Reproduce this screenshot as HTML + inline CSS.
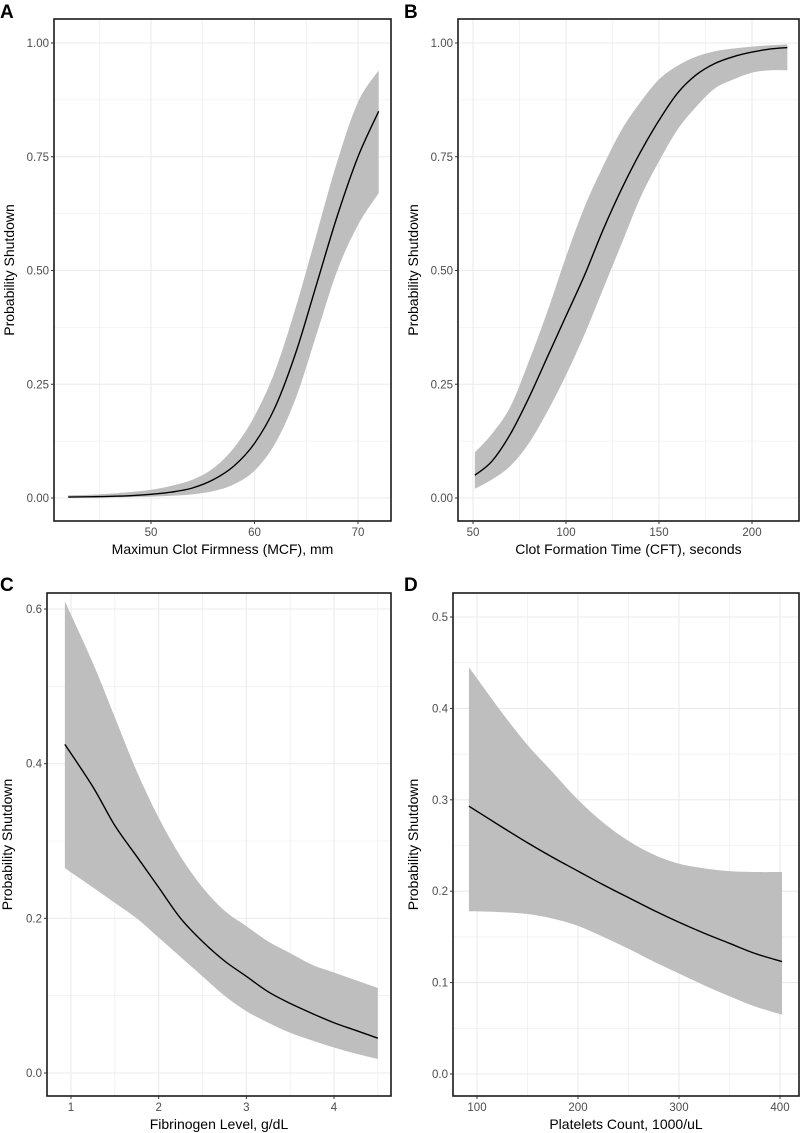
<!DOCTYPE html>
<html><head><meta charset="utf-8"><style>
html,body{margin:0;padding:0;background:#fff;}
svg{display:block;font-family:"Liberation Sans",sans-serif;}
</style></head><body>
<svg id="chart" width="800" height="1133" viewBox="0 0 800 1133" xmlns="http://www.w3.org/2000/svg"></svg>
<script>
// Panel A data
const aX=[42,45,48,50,52,54,56,58,60,62,64,66,68,70,72];
const aFit=[0.002,0.003,0.005,0.008,0.013,0.022,0.04,0.07,0.12,0.2,0.32,0.47,0.62,0.75,0.85];
const aLow=[0.001,0.001,0.002,0.003,0.005,0.008,0.015,0.03,0.06,0.12,0.22,0.36,0.5,0.6,0.67];
const aHigh=[0.006,0.008,0.013,0.018,0.027,0.04,0.065,0.11,0.18,0.28,0.42,0.58,0.74,0.87,0.94];
const aXTicks=[50,60,70];
const aYTicks=[0,0.25,0.5,0.75,1];
const aYLabels=["0.00","0.25","0.50","0.75","1.00"];
// Panel B data
const bX=[51,60,70,80,90,100,110,120,130,140,150,160,170,180,190,200,210,219];
const bFit=[0.05,0.08,0.14,0.22,0.31,0.40,0.49,0.59,0.68,0.76,0.83,0.89,0.93,0.955,0.97,0.98,0.987,0.99];
const bLow=[0.02,0.04,0.07,0.12,0.19,0.27,0.36,0.46,0.56,0.66,0.74,0.81,0.86,0.9,0.92,0.935,0.94,0.94];
const bHigh=[0.1,0.14,0.2,0.3,0.41,0.53,0.64,0.73,0.81,0.87,0.92,0.95,0.97,0.982,0.988,0.992,0.995,0.997];
const bXTicks=[50,100,150,200];
const bYTicks=[0,0.25,0.5,0.75,1];
const bYLabels=["0.00","0.25","0.50","0.75","1.00"];
// Panel C data
const cX=[0.93,1.25,1.5,1.75,2,2.25,2.5,2.75,3,3.25,3.5,3.75,4,4.25,4.5];
const cFit=[0.425,0.37,0.32,0.28,0.24,0.2,0.17,0.145,0.125,0.105,0.09,0.077,0.065,0.055,0.045];
const cLow=[0.265,0.24,0.22,0.2,0.175,0.15,0.125,0.1,0.08,0.065,0.052,0.042,0.033,0.025,0.018];
const cHigh=[0.61,0.53,0.46,0.39,0.33,0.28,0.24,0.21,0.19,0.17,0.155,0.14,0.13,0.12,0.11];
const cXTicks=[1,2,3,4];
const cYTicks=[0,0.2,0.4,0.6];
const cYLabels=["0.0","0.2","0.4","0.6"];
// Panel D data
const dX=[92,125,150,175,200,225,250,275,300,325,350,375,402];
const dFit=[0.293,0.27,0.253,0.237,0.222,0.207,0.193,0.179,0.166,0.154,0.143,0.132,0.123];
const dLow=[0.178,0.177,0.175,0.17,0.162,0.15,0.137,0.123,0.11,0.097,0.085,0.074,0.065];
const dHigh=[0.445,0.395,0.36,0.33,0.3,0.275,0.255,0.24,0.23,0.225,0.222,0.221,0.221];
const dXTicks=[100,200,300,400];
const dYTicks=[0,0.1,0.2,0.3,0.4,0.5];
const dYLabels=["0.0","0.1","0.2","0.3","0.4","0.5"];

const NS="http://www.w3.org/2000/svg";
const svg=document.getElementById('chart');
function mk(tag,attrs,parent){const e=document.createElementNS(NS,tag);for(const k in attrs)e.setAttribute(k,attrs[k]);(parent||svg).appendChild(e);return e;}
function smooth(pts){let d="M"+pts[0][0]+","+pts[0][1];for(let i=0;i<pts.length-1;i++){const p0=pts[Math.max(0,i-1)],p1=pts[i],p2=pts[i+1],p3=pts[Math.min(pts.length-1,i+2)];
const c1=[p1[0]+(p2[0]-p0[0])/6,p1[1]+(p2[1]-p0[1])/6],c2=[p2[0]-(p3[0]-p1[0])/6,p2[1]-(p3[1]-p1[1])/6];
d+=" C"+c1[0]+","+c1[1]+" "+c2[0]+","+c2[1]+" "+p2[0]+","+p2[1];}return d;}
function smoothCont(pts){return smooth(pts).replace(/^M/,"L");}

function panel(cfg){
 const g=mk('g',{});
 
 
 const {L,T,R,B}=cfg.box;
 const xs=v=>cfg.xp0+(v-cfg.xv0)*(cfg.xp1-cfg.xp0)/(cfg.xv1-cfg.xv0);
 const ys=v=>cfg.yp0+(v-cfg.yv0)*(cfg.yp1-cfg.yp0)/(cfg.yv1-cfg.yv0);
 const xt=cfg.xTicks, yt=cfg.yTicks;
 const xstep=xt[1]-xt[0], ystep=yt[1]-yt[0];
 const grid=mk('g',{},g);
 
 
 for(let v=xt[0]-2*xstep;v<=xt[xt.length-1]+2*xstep;v+=xstep/2){const p=xs(v);if(p>L+1&&p<R-1){mk('line',{x1:p,x2:p,y1:T,y2:B,stroke:'#ebebeb','stroke-width':(Math.abs((v-xt[0])/xstep-Math.round((v-xt[0])/xstep))<1e-6)?1.1:0.6},grid);}}
 for(let v=yt[0]-2*ystep;v<=yt[yt.length-1]+2*ystep;v+=ystep/2){const p=ys(v);if(p>T+1&&p<B-1){mk('line',{y1:p,y2:p,x1:L,x2:R,stroke:'#ebebeb','stroke-width':(Math.abs((v-yt[0])/ystep-Math.round((v-yt[0])/ystep))<1e-6)?1.1:0.6},grid);}}
 const up=cfg.x.map((v,i)=>[xs(v),ys(cfg.high[i])]);
 const lo=cfg.x.map((v,i)=>[xs(v),ys(cfg.low[i])]).reverse();
 const band=mk('path',{d:smooth(up)+" L"+lo[0][0]+","+lo[0][1]+" "+smoothCont(lo).slice(1)+" Z",fill:'#bebebe',stroke:'none'},g);
 
 
 const line=mk('path',{d:smooth(cfg.x.map((v,i)=>[xs(v),ys(cfg.fit[i])])),fill:'none',stroke:'#000','stroke-width':1.4},g);
 
 
 const box=mk('rect',{x:L,y:T,width:R-L,height:B-T,fill:'none',stroke:'#1a1a1a','stroke-width':1.6},g);
 
 
 xt.forEach(v=>{const p=xs(v);mk('line',{x1:p,x2:p,y1:B,y2:B+3,stroke:'#333','stroke-width':1},g);
  const t=mk('text',{x:p,y:B+15,'text-anchor':'middle','font-size':11.5,fill:'#4d4d4d'},g);t.textContent=v;
  
  });
 yt.forEach((v,i)=>{const p=ys(v);mk('line',{x1:L-3,x2:L,y1:p,y2:p,stroke:'#333','stroke-width':1},g);
  const t=mk('text',{x:L-5,y:p+4,'text-anchor':'end','font-size':11.5,fill:'#4d4d4d'},g);t.textContent=cfg.yLabels[i];
  
  });
 const xtit=mk('text',{x:(L+R)/2,y:B+33,'text-anchor':'middle','font-size':14,fill:'#000'},g);xtit.textContent=cfg.xTitle;
 
 
 const yc=(T+B)/2;
 const ytit=mk('text',{x:cfg.ytx,y:yc,'text-anchor':'middle','font-size':14,fill:'#000',transform:'rotate(-90 '+cfg.ytx+' '+yc+')'},g);ytit.textContent='Probability Shutdown';
 
 
 const lt=mk('text',{x:cfg.lx,y:cfg.ly,'font-size':19,'font-weight':'bold',fill:'#000'},g);lt.textContent=cfg.letter;
 
 
}
panel({letter:'A',lx:0,ly:18,box:{L:54,T:19,R:391,B:521},xp0:151,xv0:50,xp1:358,xv1:70,yp0:498,yv0:0,yp1:43,yv1:1,
 x:aX,fit:aFit,low:aLow,high:aHigh,xTicks:aXTicks,yTicks:aYTicks,yLabels:aYLabels,xTitle:'Maximun Clot Firmness (MCF), mm',ytx:14});
panel({letter:'B',lx:404,ly:18,box:{L:458,T:19,R:799,B:521},xp0:473,xv0:50,xp1:752,xv1:200,yp0:498,yv0:0,yp1:43,yv1:1,
 x:bX,fit:bFit,low:bLow,high:bHigh,xTicks:bXTicks,yTicks:bYTicks,yLabels:bYLabels,xTitle:'Clot Formation Time (CFT), seconds',ytx:418});
panel({letter:'C',lx:0,ly:591,box:{L:47,T:593,R:391,B:1096},xp0:71,xv0:1,xp1:334,xv1:4,yp0:1073,yv0:0,yp1:609,yv1:0.6,
 x:cX,fit:cFit,low:cLow,high:cHigh,xTicks:cXTicks,yTicks:cYTicks,yLabels:cYLabels,xTitle:'Fibrinogen Level, g/dL',ytx:12});
panel({letter:'D',lx:404,ly:591,box:{L:453,T:593,R:799,B:1096},xp0:477,xv0:100,xp1:780,xv1:400,yp0:1074,yv0:0,yp1:617,yv1:0.5,
 x:dX,fit:dFit,low:dLow,high:dHigh,xTicks:dXTicks,yTicks:dYTicks,yLabels:dYLabels,xTitle:'Platelets Count, 1000/uL',ytx:418});
</script>
</body></html>
